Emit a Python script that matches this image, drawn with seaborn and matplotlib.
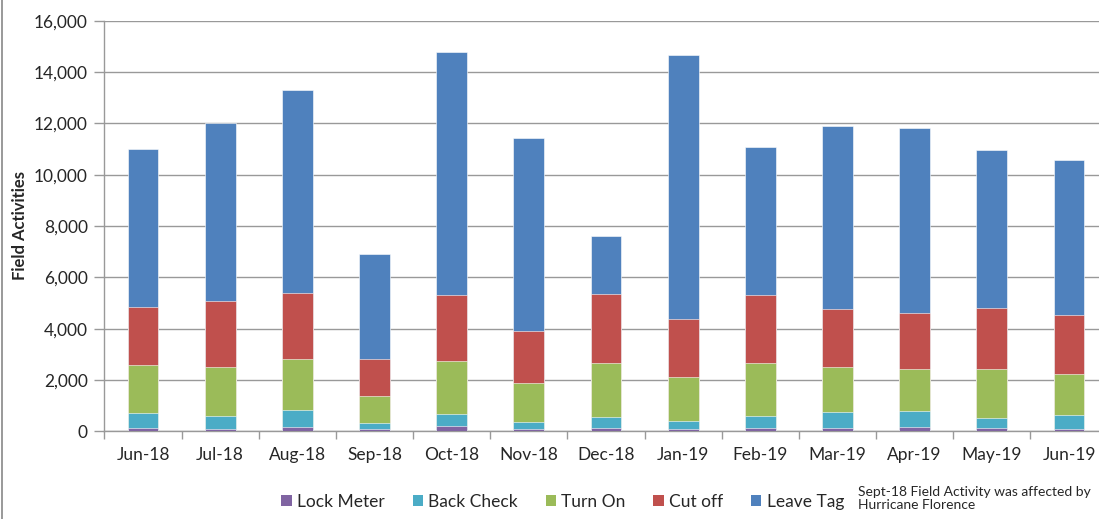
import matplotlib
matplotlib.use("Agg")
import matplotlib.pyplot as plt
import seaborn as sns
import pandas as pd
import numpy as np
from matplotlib.patches import Patch
from matplotlib.lines import Line2D
from matplotlib.ticker import FuncFormatter, FixedLocator

months = ["Jun-18", "Jul-18", "Aug-18", "Sep-18", "Oct-18", "Nov-18", "Dec-18",
          "Jan-19", "Feb-19", "Mar-19", "Apr-19", "May-19", "Jun-19"]
# cumulative tops, converted to per-series values below
lock_meter = [140, 80, 180, 80, 220, 80, 140, 80, 120, 140, 180, 120, 90]
back_check_top = [700, 600, 830, 320, 660, 360, 560, 420, 610, 740, 810, 530, 650]
turn_on_top = [2590, 2495, 2805, 1390, 2740, 1870, 2660, 2115, 2660, 2495, 2430, 2430, 2245]
cut_off_top = [4855, 5075, 5380, 2805, 5310, 3895, 5350, 4375, 5310, 4755, 4600, 4795, 4520]
leave_tag_top = [11000, 12000, 13300, 6905, 14780, 11425, 7600, 14650, 11085, 11905, 11815, 10955, 10560]

back_check = [b - a for a, b in zip(lock_meter, back_check_top)]
turn_on = [b - a for a, b in zip(back_check_top, turn_on_top)]
cut_off = [b - a for a, b in zip(turn_on_top, cut_off_top)]
leave_tag = [b - a for a, b in zip(cut_off_top, leave_tag_top)]

series_names = ["Lock Meter", "Back Check", "Turn On", "Cut off", "Leave Tag"]
series_vals = [lock_meter, back_check, turn_on, cut_off, leave_tag]
colors = ["#8064A2", "#4BACC6", "#9BBB59", "#C0504D", "#4F81BD"]

sns.set_theme(style="white")
plt.rcParams["font.family"] = ["Lato", "DejaVu Sans"]

fig = plt.figure(figsize=(10.99, 5.19), dpi=100)
ax = fig.add_axes([104.4 / 1099, 1 - 431.3 / 519, (1107.6 - 104.4) / 1099, (431.3 - 20.7) / 519])

cum = np.cumsum(np.array(series_vals), axis=0)
# draw from top layer down so lower layers overlay
for i in range(len(series_names) - 1, -1, -1):
    df = pd.DataFrame({"month": months, "value": cum[i]})
    sns.barplot(data=df, x="month", y="value", color=colors[i], width=0.4,
                saturation=1, ax=ax, edgecolor="white", linewidth=0.4, zorder=3)

ax.set_ylim(0, 16000)
ax.set_xlim(-0.5, len(months) - 0.5)
ax.set_yticks(np.arange(0, 16001, 2000))
ax.yaxis.set_major_formatter(FuncFormatter(lambda v, p: f"{int(v):,}"))
ax.grid(axis="y", color="#999999", linewidth=1, zorder=0)
ax.set_axisbelow(True)
for s in ["top", "right"]:
    ax.spines[s].set_visible(False)
for s in ["left", "bottom"]:
    ax.spines[s].set_color("#999999")
    ax.spines[s].set_linewidth(1)

ax.tick_params(axis="y", which="major", length=7, color="#999999", width=1,
               labelsize=12.5, pad=5, left=True)
ax.tick_params(axis="x", which="major", length=0, labelsize=12.5, pad=11)
ax.xaxis.set_minor_locator(FixedLocator(np.arange(-0.5, len(months), 1)))
ax.tick_params(axis="x", which="minor", length=6, color="#999999", width=1, bottom=True)
ax.set_xlabel("")
ax.set_ylabel("Field Activities", fontsize=12, fontweight="bold", labelpad=4)

handles = [Patch(facecolor=c, edgecolor="none", label=n) for n, c in zip(series_names, colors)]
fig.legend(handles=handles, loc="center", bbox_to_anchor=(0.512, 0.033), ncol=5,
           frameon=False, fontsize=12.5, handlelength=0.6, handleheight=0.6,
           handletextpad=0.3, columnspacing=1.6)

fig.text(858 / 1099, 1 - 486 / 519, "Sept-18 Field Activity was affected by\nHurricane Florence",
         fontsize=10, va="top", ha="left", linespacing=1.1)

fig.add_artist(Line2D([2 / 1099, 2 / 1099], [0, 1], transform=fig.transFigure,
                      color="#888888", linewidth=1.2))

fig.savefig("out.png", dpi=100)
